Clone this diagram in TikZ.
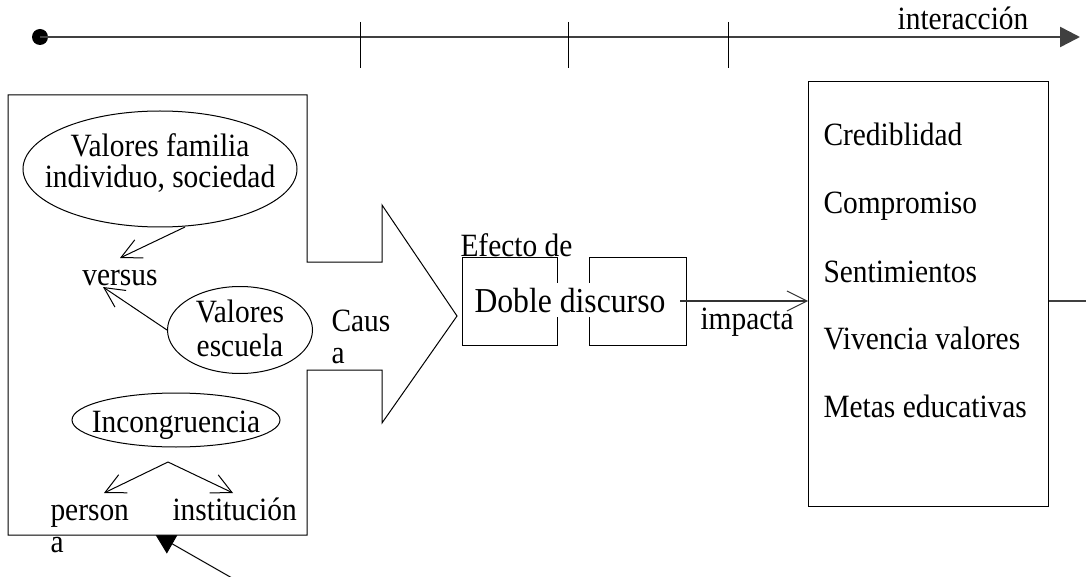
\documentclass[tikz,border=0pt]{standalone}
\usepackage{fontspec}
\setmainfont{Liberation Serif}[FakeStretch=0.905]
\usetikzlibrary{shapes.geometric,arrows.meta}
\begin{document}
\begin{tikzpicture}[x=1pt,y=-1pt,line width=1pt,
  txt/.style={font=\fontsize{32.5}{36}\selectfont,inner sep=0pt},
  bigtxt/.style={font=\fontsize{35}{38}\selectfont,inner sep=0pt},
  ell/.style={draw,ellipse,inner sep=0pt},
  barb/.style={-{Straight Barb[length=20pt,width=20pt,line width=1pt]}},
  topline/.style={line width=2.5pt,black!75},
  thickline/.style={line width=1.8pt,black!75},
  box/.style={draw,rectangle,inner sep=0pt,anchor=north west}]
\useasboundingbox (0,0) rectangle (1086,577);
% top line
\node[circle,fill,minimum size=16pt,inner sep=0pt] (dot) at (40,37) {};
\coordinate (tl) at (1080,37);
\draw[topline,-{Triangle[length=20pt,width=20pt]}] (dot.center) -- (tl);
\foreach \x in {360,568,728} \draw (\x,22) -- (\x,68);
\node[txt,anchor=base] (inter) at (963,30) {interacción};
% bottom arrow (partly behind the box)
\coordinate (bstart) at (232,578);
\coordinate (btip) at (155,534);
\draw[-{Triangle[length=20pt,width=22pt]}] (bstart) -- (btip);
% left box with big arrow
\draw[fill=white] (307,95) -- (307,262) -- (382,262) -- (382,205) -- (457,316)
  -- (382,423) -- (382,370) -- (307,370) -- (307,535) -- (8,535) -- (8,95) -- cycle;
% ellipses
\node[ell,minimum width=274pt,minimum height=116pt] (e1) at (160,169) {};
\node[txt,anchor=base] (e1a) at (160,157) {Valores familia};
\node[txt,anchor=base] (e1b) at (160,188) {individuo, sociedad};
\node[txt,anchor=base] (vs) at (120,285) {versus};
\node[ell,minimum width=145pt,minimum height=87pt] (e2) at (240,330) {};
\node[txt,anchor=base] (e2a) at (240,322) {Valores};
\node[txt,anchor=base] (e2b) at (240,356) {escuela};
\node[ell,minimum width=208pt,minimum height=54pt] (e3) at (176,420) {};
\node[txt,anchor=base] (e3t) at (176,432) {Incongruencia};
\coordinate (apex) at (168,462);
\node[txt,anchor=base west] (pers) at (50,520) {person};
\node[txt,anchor=base west] (persa) at (50,552) {a};
\node[txt,anchor=base west] (inst) at (172,520) {institución};
\draw[barb] (185,227) -- (120,258);
\draw[barb] (e2.west) -- (103,287);
\draw[barb] (apex) -- (104,493);
\draw[barb] (apex) -- (233,493);
\node[txt,anchor=base west] (caus) at (331,331) {Caus};
\node[txt,anchor=base west] (causa) at (331,363) {a};
% double discourse
\node[box,minimum width=95pt,minimum height=88pt] (b1) at (462,257) {};
\node[box,minimum width=97pt,minimum height=88pt] (b2) at (589,257) {};
\node[txt,anchor=base west] (efe) at (460,256) {Efecto de};
\node[bigtxt,anchor=base west,fill=white,inner ysep=5pt,inner xsep=1pt] (dd) at (473,312) {Doble discurso};
% right box
\node[box,minimum width=240pt,minimum height=425pt] (rb) at (808,81) {};
\foreach \t/\y in {Crediblidad/146,Compromiso/214,Sentimientos/282,Vivencia valores/349,Metas educativas/417}
  \node[txt,anchor=base west] at (823,\y) {\t};
\coordinate (ls) at (680,301);
\draw[barb,line width=1.5pt,black!80] (ls) -- (ls -| rb.west);
\node[txt,anchor=base west] (imp) at (700,329) {impacta};
\coordinate (re) at (1086,301);
\draw[thickline] (re -| rb.east) -- (re);
\end{tikzpicture}
\end{document}
